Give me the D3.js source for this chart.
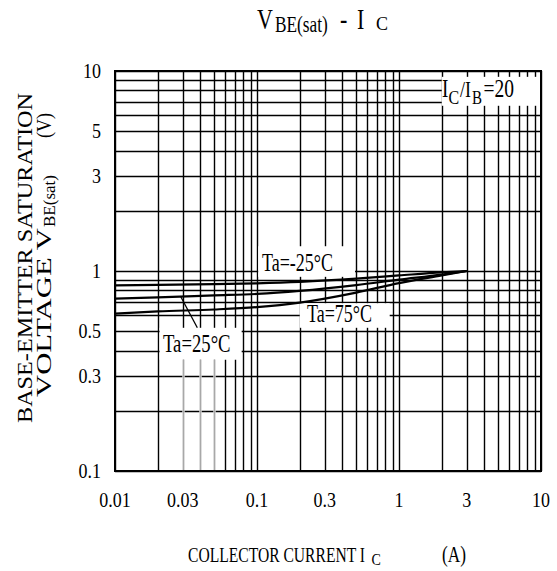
<!DOCTYPE html>
<html>
<head>
<meta charset="utf-8">
<script src="https://cdn.jsdelivr.net/npm/d3@7"></script>
<style>
  html, body { margin: 0; padding: 0; background: #fff; }
  svg { display: block; }
  text { font-family: "Liberation Serif", "Times New Roman", serif; fill: #000; }
</style>
</head>
<body>
<svg id="chart" width="557" height="571"></svg>
<script>
// ---------------- data ----------------
const icValues   = [0.01, 0.02, 0.05, 0.1, 0.2, 0.5, 1, 2, 3];           // A
const vbeTaM25   = [0.848, 0.852, 0.860, 0.868, 0.882, 0.915, 0.950, 0.985, 1.0]; // Ta=-25°C
const vbeTa25    = [0.727, 0.738, 0.755, 0.768, 0.795, 0.850, 0.905, 0.960, 1.0]; // Ta=25°C
const vbeTa75    = [0.612, 0.628, 0.642, 0.660, 0.695, 0.780, 0.870, 0.950, 1.0]; // Ta=75°C
const xTickLabels = [0.01, 0.03, 0.1, 0.3, 1, 3, 10];
const yTickLabels = [0.1, 0.3, 0.5, 1, 3, 5, 10];
const xDecades = [0.01, 0.1, 1];
const yDecades = [0.1, 1];
const greyLinesX = [0.03, 0.04, 0.05];

// ---------------- layout ----------------
const L = 115, R = 541, T = 71, B = 471;
const svg = d3.select("#chart");
const x = d3.scaleLog().domain([0.01, 10]).range([L, R]);
const y = d3.scaleLog().domain([0.1, 10]).range([B, T]);

const gridX = [];
xDecades.forEach(d => { for (let k = 1; k <= 9; k++) gridX.push(d * k); });
gridX.push(10);
const gridY = [];
yDecades.forEach(d => { for (let k = 1; k <= 9; k++) gridY.push(d * k); });
gridY.push(10);

// annotation boxes (data units)
const boxes = [
  { x0: 2,      x1: 10,    y0: 9.35, y1: 6.7 },   // IC/IB=20
  { x0: 0.102,  x1: 0.49,  y0: 1.33, y1: 0.935 }, // Ta=-25
  { x0: 0.2,    x1: 0.86,  y0: 0.69, y1: 0.52 },  // Ta=75
  { x0: 0.0206, x1: 0.078, y0: 0.52, y1: 0.36 }   // Ta=25
];

const grid = svg.append("g");
grid.selectAll("line.h").data(gridY).join("line")
  .attr("x1", L).attr("x2", R)
  .attr("y1", d => Math.round(y(d)) + 0.5).attr("y2", d => Math.round(y(d)) + 0.5)
  .attr("stroke", "#000").attr("stroke-width", 1.4);
grid.selectAll("line.v").data(gridX).join("line")
  .attr("y1", T).attr("y2", B)
  .attr("x1", d => Math.round(x(d)) + 0.5).attr("x2", d => Math.round(x(d)) + 0.5)
  .attr("stroke", "#000").attr("stroke-width", 1.4);

// white label boxes
svg.append("g").selectAll("rect").data(boxes).join("rect")
  .attr("x", d => x(d.x0)).attr("width", d => x(d.x1) - x(d.x0))
  .attr("y", d => y(d.y0)).attr("height", d => y(d.y1) - y(d.y0))
  .attr("fill", "#fff");

// grey segments below Ta=25 label
svg.append("g").selectAll("line").data(greyLinesX).join("line")
  .attr("x1", d => Math.round(x(d)) + 0.5).attr("x2", d => Math.round(x(d)) + 0.5)
  .attr("y1", y(0.36)).attr("y2", B - 1)
  .attr("stroke", "#fff").attr("stroke-width", 2.2);
svg.append("g").selectAll("line").data(greyLinesX).join("line")
  .attr("x1", d => Math.round(x(d)) + 0.5).attr("x2", d => Math.round(x(d)) + 0.5)
  .attr("y1", y(0.36)).attr("y2", B - 1)
  .attr("stroke", "#a8a8a8").attr("stroke-width", 1.4);

// border
svg.append("rect").attr("x", L).attr("y", T).attr("width", R - L).attr("height", B - T)
  .attr("fill", "none").attr("stroke", "#000").attr("stroke-width", 2);

// curves
const line = d3.line().x(d => x(d[0])).y(d => y(d[1])).curve(d3.curveMonotoneX);
[vbeTaM25, vbeTa25, vbeTa75].forEach(s => {
  svg.append("path").datum(icValues.map((v, i) => [v, s[i]]))
    .attr("d", line).attr("fill", "none").attr("stroke", "#000").attr("stroke-width", 2.2);
});

// leader line for Ta=25
const leader = [[0.029, 0.745], [0.038, 0.52]];
svg.append("line")
  .attr("x1", x(leader[0][0])).attr("y1", y(leader[0][1]))
  .attr("x2", x(leader[1][0])).attr("y2", y(leader[1][1]))
  .attr("stroke", "#000").attr("stroke-width", 1.3);

// ---------------- text helpers ----------------
function txt(parent, s, px, py, fs, len, anchor) {
  const t = parent.append("text").attr("x", px).attr("y", py)
    .attr("font-size", fs).attr("text-anchor", anchor || "start").text(s);
  if (len) t.attr("textLength", len).attr("lengthAdjust", "spacingAndGlyphs");
  return t;
}
// vertically stretched text (the reference uses a tall, narrow serif)
function stxt(parent, s, px, py, fs, sy, anchor) {
  const g = parent.append("g").attr("transform", `translate(${px},${py}) scale(1,${sy})`);
  return g.append("text").attr("x", 0).attr("y", 0).attr("font-size", fs)
    .attr("text-anchor", anchor || "start").text(s);
}

// tick labels
const tl = svg.append("g");
xTickLabels.forEach(v => stxt(tl, String(v), x(v), 507, 18, 1.12, "middle"));
yTickLabels.forEach(v => stxt(tl, String(v), 101, y(v) + 7, 18, 1.12, "end"));

// annotations
const an = svg.append("g");
stxt(an, "I", 442, 97, 19, 1.3);
stxt(an, "C", 448.5, 103.5, 16, 1.15);
stxt(an, "/I", 460, 97, 18, 1.3);
stxt(an, "B", 472, 103.5, 15, 1.2);
stxt(an, "=20", 483.5, 97, 19.5, 1.3);
stxt(an, "Ta=-25\u00B0C", 262, 271, 18, 1.35);
stxt(an, "Ta=75\u00B0C", 307, 322, 18, 1.35);
stxt(an, "Ta=25\u00B0C", 163, 352, 18.7, 1.35);

// title
const tt = svg.append("g");
stxt(tt, "V", 257, 28.5, 22, 1.35);
stxt(tt, "BE(sat)", 275, 31.5, 17.3, 1.3);
stxt(tt, "-", 340, 28.5, 22, 1.35);
stxt(tt, "I", 357, 28.5, 22, 1.35);
stxt(tt, "C", 376, 30, 18, 1.1);

// x-axis title
const xt = svg.append("g");
stxt(xt, "COLLECTOR CURRENT I", 188, 562, 15.6, 1.4);
stxt(xt, "C", 371.5, 565, 14, 1.2);
stxt(xt, "(A)", 442, 562, 17.3, 1.3);

// y-axis title (rotated)
function rtxt(s, bx, by, fs, len, anchor) {
  const g = svg.append("g").attr("transform", `translate(${bx},${by}) rotate(-90)`);
  return txt(g, s, 0, 0, fs, len, anchor);
}
rtxt("BASE-EMITTER SATURATION", 32, 258, 22, 330, "middle");
rtxt("VOLTAGE V", 51, 397, 22, 169, "start");
rtxt("BE(sat)", 55, 227, 16, 52, "start");
rtxt("(V)", 51, 138, 22, 25, "start");
</script>
</body>
</html>
